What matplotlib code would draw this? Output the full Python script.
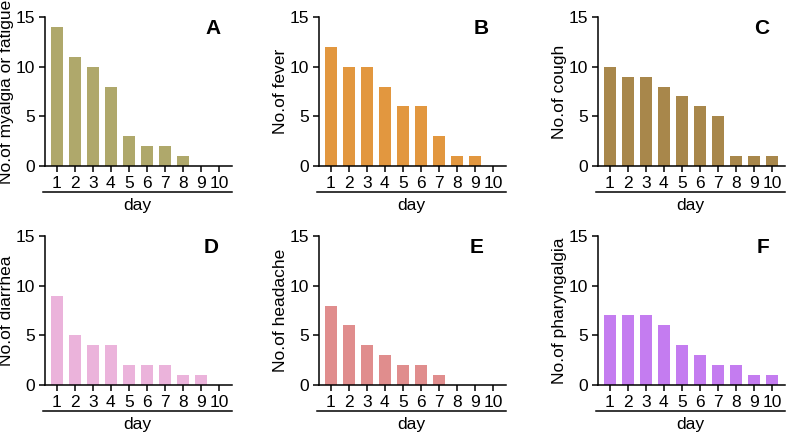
import numpy as np
import matplotlib.pyplot as plt

plt.rcParams['font.family'] = ['Liberation Sans', 'DejaVu Sans']

days = [1, 2, 3, 4, 5, 6, 7, 8, 9, 10]
day_labels = ['1', '2', '3', '4', '5', '6', '7', '8', '9', '10']

myalgia = [14, 11, 10, 8, 3, 2, 2, 1, 0, 0]
fever = [12, 10, 10, 8, 6, 6, 3, 1, 1, 0]
cough = [10, 9, 9, 8, 7, 6, 5, 1, 1, 1]
diarrhea = [9, 5, 4, 4, 2, 2, 2, 1, 1, 0]
headache = [8, 6, 4, 3, 2, 2, 1, 0, 0, 0]
pharyngalgia = [7, 7, 7, 6, 4, 3, 2, 2, 1, 1]

panels = [
    ('A', 'No.of myalgia or fatigue', myalgia, '#afa86b'),
    ('B', 'No.of fever', fever, '#e2973f'),
    ('C', 'No.of cough', cough, '#a8874b'),
    ('D', 'No.of diarrhea', diarrhea, '#ebb3db'),
    ('E', 'No.of headache', headache, '#e08d8d'),
    ('F', 'No.of pharyngalgia', pharyngalgia, '#c47cf0'),
]
# panel letter x positions (axes fraction)
letter_x = [0.896, 0.866, 0.877, 0.89, 0.84, 0.88]

W, H = 787, 433
fig = plt.figure(figsize=(W / 100, H / 100), dpi=100)

lefts = [45, 319, 598]
tops = [17, 236]
aw, ah = 187, 149

for i, (letter, ylab, vals, col) in enumerate(panels):
    r, c = divmod(i, 3)
    ax = fig.add_axes([lefts[c] / W, 1 - (tops[r] + ah) / H, aw / W, ah / H])
    ax.bar(days, vals, width=0.67, color=col)
    ax.set_xlim(0.35, 10.72)
    ax.set_ylim(0, 15)
    ax.set_yticks([0, 5, 10, 15])
    ax.set_xticks(days)
    ax.set_xticklabels(day_labels)
    for s in ['top', 'right']:
        ax.spines[s].set_visible(False)
    for s in ['left', 'bottom']:
        ax.spines[s].set_linewidth(1.1)
    ax.tick_params(axis='both', direction='out', length=4, width=1.1,
                   labelsize=12.5)
    ax.tick_params(axis='x', pad=3)
    ax.tick_params(axis='y', pad=3)
    ax.set_ylabel(ylab, fontsize=12.5, labelpad=1)
    ax.text(letter_x[i], 0.925, letter, transform=ax.transAxes, ha='center',
            va='center', fontsize=15, fontweight='bold')
    # grouping line under the tick labels
    ax.plot([-0.01, 1.0], [-0.175, -0.175], transform=ax.transAxes,
            color='black', lw=1.1, clip_on=False)
    ax.text(0.495, -0.265, 'day', transform=ax.transAxes, ha='center',
            va='center', fontsize=12.5)

fig.savefig('out.png', dpi=100)
